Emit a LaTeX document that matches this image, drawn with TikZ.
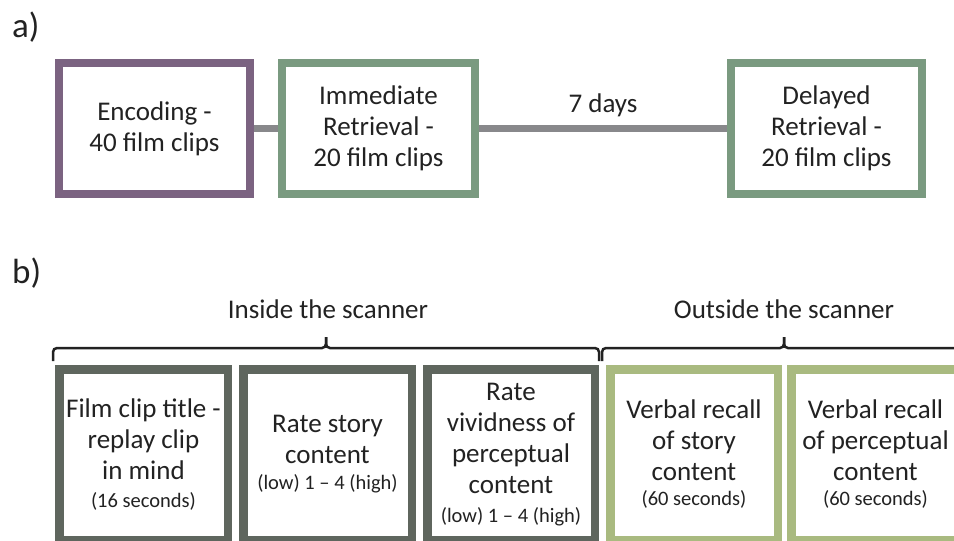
\documentclass[tikz,border=0pt]{standalone}
\usepackage{fontspec}
\setmainfont{Carlito}
\definecolor{purpleC}{HTML}{7B6381}
\definecolor{greenC}{HTML}{7A9A80}
\definecolor{lineC}{HTML}{88888B}
\definecolor{darkC}{HTML}{5F665E}
\definecolor{lightC}{HTML}{A9BA80}
\definecolor{txtC}{HTML}{222222}
\newcommand{\mainf}{\fontsize{27}{31}\selectfont}
\newcommand{\smallf}{\fontsize{20.5}{24}\selectfont}
\newcommand{\labf}{\fontsize{35}{40}\selectfont}
\tikzset{
  boxa/.style={draw, line width=8pt, fill=white, minimum width=191pt, minimum height=131pt,
    inner sep=0pt, align=center, font=\mainf, text=txtC},
  boxb/.style={draw, line width=8.5pt, fill=white, minimum width=168.5pt, minimum height=170.5pt,
    inner sep=0pt, align=center, font=\mainf, text=txtC},
  conn/.style={draw=lineC, line width=7pt},
  bracel/.style={draw=txtC, line width=2.5pt, rounded corners=4pt},
  lbl/.style={font=\mainf, text=txtC, anchor=base},
  plab/.style={font=\labf, text=txtC, anchor=base west, inner sep=0pt}
}
\begin{document}
\begin{tikzpicture}[x=1pt,y=-1pt]
\useasboundingbox (0,0) rectangle (954,541);
\clip (0,0) rectangle (954,541);
% part a
\node[plab] (la) at (12,37) {a)};
\node[boxa, draw=purpleC] (enc) at (154.5,128.5) {Encoding -\\40 film clips};
\node[boxa, draw=greenC, minimum width=193pt] (imm) at (378.5,128.5) {Immediate\\Retrieval -\\20 film clips};
\node[boxa, draw=greenC] (del) at (826.5,128.5) {Delayed\\Retrieval -\\20 film clips};
\draw[conn] (enc) -- (imm);
\draw[conn] (imm) -- node[lbl, midway, yshift=16pt] (days) {7 days} (del);
% part b
\node[plab] (lb) at (12,283) {b)};
\node[lbl] (ins) at (328,318) {Inside the scanner};
\node[lbl] (outs) at (784,318) {Outside the scanner};
\coordinate (tipi) at (326,337);
\coordinate (tipo) at (784,337);
\draw[bracel] (53,361) -- (53,348) -- (326,348) -- (tipi);
\draw[bracel] (599,361) -- (599,348) -- (326,348) -- (tipi);
\draw[bracel] (602,361) -- (602,348) -- (784,348) -- (tipo);
\draw[bracel] (966,361) -- (966,348) -- (784,348) -- (tipo);
\node[boxb, draw=darkC] (b1) at (143.5,454.5) {Film clip title -\\replay clip\\in mind\\[-3pt]{\smallf (16 seconds)}};
\node[boxb, draw=darkC] (b2) at (327.5,454.5) {Rate story\\content\\[-5pt]{\smallf (low) 1 \textendash\ 4 (high)}};
\node[boxb, draw=darkC, minimum width=167.5pt] (b3) at (511,454.5) {Rate\\vividness of\\perceptual\\content\\[-2pt]{\smallf (low) 1 \textendash\ 4 (high)}};
\node[boxb, draw=lightC, minimum width=167.5pt] (b4) at (694,454.5) {Verbal recall\\of story\\content\\[-6pt]{\smallf (60 seconds)}};
\node[boxb, draw=lightC] (b5) at (875.5,454.5) {Verbal recall\\of perceptual\\content\\[-6pt]{\smallf (60 seconds)}};
\end{tikzpicture}
\end{document}
